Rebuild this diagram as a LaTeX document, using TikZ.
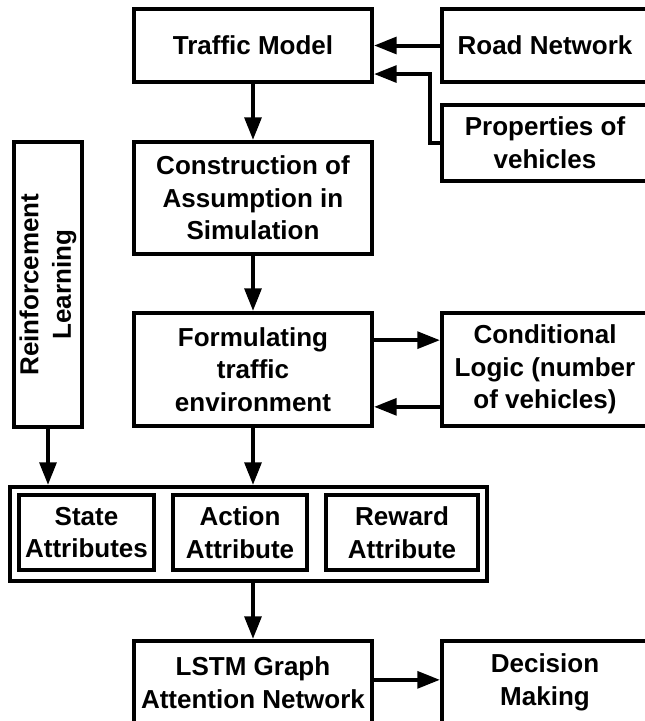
\documentclass[tikz,border=0pt]{standalone}
\usepackage{fontspec}
\setmainfont{Liberation Sans}
\usetikzlibrary{arrows.meta,positioning,calc}
\tikzset{
  box/.style={draw=black, line width=3pt, inner sep=0pt, align=center,
    font=\fontsize{19.5pt}{24.5pt}\selectfont\bfseries},
  arr/.style={draw=black, line width=3pt, -{Triangle[length=17pt,width=12.5pt]}},
}
\begin{document}
\begin{tikzpicture}[x=0.75pt,y=-0.75pt]
\useasboundingbox (0,0) rectangle (644,721);
\fill[white] (0,0) rectangle (644,721);
% main column
\node[box, minimum width=178.5pt, minimum height=54.75pt] (tm) at (253,45.5) {Traffic Model};
\node[box, minimum width=154.5pt, minimum height=54.75pt] (rn) at (545,45.5) {Road Network};
\node[box, minimum width=154.5pt, minimum height=57pt] (pv) at (545,143) {Properties of\\vehicles};
\node[box, minimum width=178.5pt, minimum height=84pt] (cs) at (253,198) {Construction of\\Assumption in\\Simulation};
\node[box, rotate=90, minimum width=213.75pt, minimum height=51pt] (rl) at (48,284.5) {Reinforcement\\Learning};
\node[box, minimum width=178.5pt, minimum height=84.75pt] (fm) at (253,369.5) {Formulating\\traffic\\environment};
\node[box, minimum width=154.5pt, minimum height=84.75pt] (cl) at (545,369.5) {Conditional\\Logic (number\\of vehicles)};
\node[box, minimum width=357.75pt, minimum height=70.5pt] (outer) at (248.5,534) {};
\node[box, minimum width=101.25pt, minimum height=56.25pt] (st) at (86.5,532.5) {State\\Attributes};
\node[box, minimum width=100.5pt, minimum height=56.25pt] (ac) at (240,532.5) {Action\\Attribute};
\node[box, minimum width=114pt, minimum height=56.25pt] (rw) at (402,532.5) {Reward\\Attribute};
\node[box, minimum width=178.5pt, minimum height=62.25pt] (ls) at (253,682.5) {LSTM Graph\\Attention Network};
\node[box, minimum width=154.5pt, minimum height=62.25pt] (dm) at (545,682.5) {Decision\\Making};
% connectors
\draw[arr] (rn.west) -- (tm.east);
\draw[arr] (pv.west) -- ([xshift=-7.5pt]pv.west) |- ([yshift=-21.4pt]tm.east);
\draw[arr] (tm.south) -- (cs.north);
\draw[arr] (cs.south) -- (fm.north);
\draw[arr] ([yshift=22pt]fm.east) -- ([yshift=22pt]fm.east -| cl.west);
\draw[arr] ([yshift=-28pt]cl.west) -- ([yshift=-28pt]cl.west -| fm.east);
\draw[arr] (rl.west) -- (rl.west |- outer.north);
\draw[arr] (fm.south) -- (fm.south |- outer.north);
\draw[arr] (ls.north |- outer.south) -- (ls.north);
\draw[arr] ([yshift=2pt]ls.east) -- ([yshift=2pt]ls.east -| dm.west);
\end{tikzpicture}
\end{document}
